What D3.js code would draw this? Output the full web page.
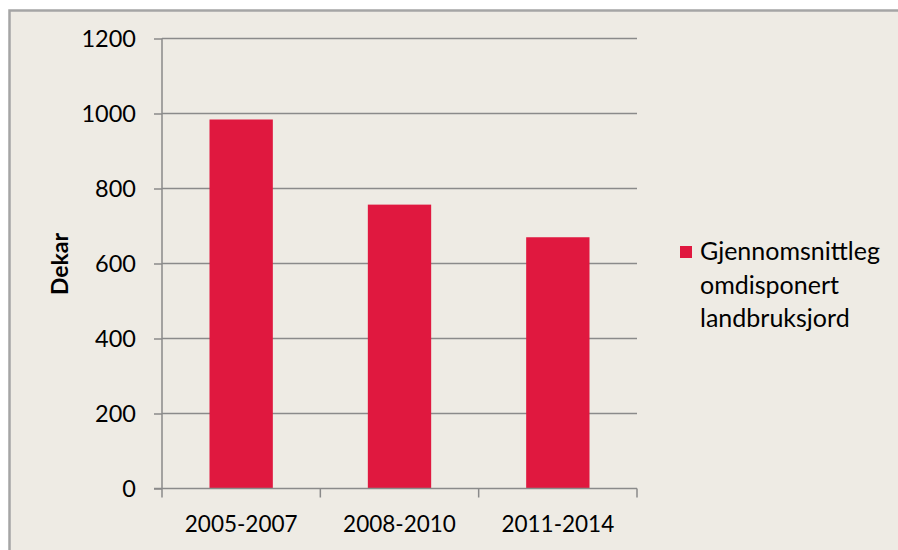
<!DOCTYPE html>
<html>
<head>
<meta charset="utf-8">
<script src="https://cdn.jsdelivr.net/npm/d3@7"></script>
<style>
    body { margin: 0; background: #fff; }
    svg { display: block; }
    text { font-family: Lato, "Open Sans", sans-serif; fill: #000; }
</style>
</head>
<body>
<div id="chart"></div>
<script>
var periods = ["2005-2007", "2008-2010", "2011-2014"];
var dekar = [984, 757, 670];
var yTicks = [0, 200, 400, 600, 800, 1000, 1200];
var legendLines = ["Gjennomsnittleg", "omdisponert", "landbruksjord"];

var width = 898,
    height = 550;
var margin = {left: 162, right: 261, top: 38.5, bottom: 61.5};

var svg = d3.select("#chart")
    .append("svg")
    .attr("width", width)
    .attr("height", height);

// chart frame
svg.append("rect")
    .attr("x", 9.5)
    .attr("y", 10.5)
    .attr("width", width + 20)
    .attr("height", height + 20)
    .attr("fill", "#eeebe4")
    .attr("stroke", "#a5a5a5")
    .attr("stroke-width", 2.5);

var x = d3.scaleBand()
    .domain(periods)
    .range([margin.left, width - margin.right])
    .paddingInner(0.6)
    .paddingOuter(0.3);

var y = d3.scaleLinear()
    .domain([0, 1200])
    .range([height - margin.bottom, margin.top]);

// gridlines
svg.append("g")
    .selectAll("line")
    .data(yTicks.filter(function(d) { return d > 0; }))
    .enter()
    .append("line")
    .attr("x1", margin.left)
    .attr("x2", width - margin.right)
    .attr("y1", function(d) { return y(d); })
    .attr("y2", function(d) { return y(d); })
    .attr("stroke", "#8a8a8a")
    .attr("stroke-width", 1.5);

// bars
svg.append("g")
    .selectAll("rect")
    .data(periods)
    .enter()
    .append("rect")
    .attr("x", function(d) { return x(d); })
    .attr("y", function(d, i) { return y(dekar[i]); })
    .attr("width", x.bandwidth())
    .attr("height", function(d, i) { return y(0) - y(dekar[i]); })
    .attr("fill", "#e0183f");

// y axis
var yAxis = svg.append("g")
    .attr("transform", "translate(" + margin.left + ",0)")
    .call(d3.axisLeft(y).tickValues(yTicks).tickFormat(d3.format("d")).tickSize(8).tickPadding(18));
yAxis.selectAll("path, line").attr("stroke", "#8a8a8a").attr("stroke-width", 1.5);
yAxis.select(".domain").attr("d", "M0," + y(1200) + "V" + y(0));
yAxis.selectAll("text")
    .style("font-size", "23.5px")
    .style("font-family", "Lato, 'Open Sans', sans-serif")
    .attr("fill", "#000");

// x axis, ticks on category boundaries
var xAxis = svg.append("g")
    .attr("transform", "translate(0," + y(0) + ")");
xAxis.append("line")
    .attr("x1", margin.left - 8)
    .attr("x2", width - margin.right)
    .attr("stroke", "#8a8a8a")
    .attr("stroke-width", 1.5);
var step = x.step();
xAxis.selectAll(".bound")
    .data(d3.range(periods.length + 1))
    .enter()
    .append("line")
    .attr("class", "bound")
    .attr("x1", function(i) { return margin.left + i * step; })
    .attr("x2", function(i) { return margin.left + i * step; })
    .attr("y1", 0)
    .attr("y2", 9)
    .attr("stroke", "#8a8a8a")
    .attr("stroke-width", 1.5);
xAxis.selectAll(".lbl")
    .data(periods)
    .enter()
    .append("text")
    .attr("class", "lbl")
    .attr("x", function(d) { return x(d) + x.bandwidth() / 2; })
    .attr("y", 43)
    .attr("text-anchor", "middle")
    .style("font-size", "22.5px")
    .text(function(d) { return d; });

// y title
svg.append("text")
    .attr("transform", "translate(68,264) rotate(-90)")
    .attr("text-anchor", "middle")
    .style("font-size", "23px")
    .style("font-weight", "bold")
    .text("Dekar");

// legend
var legend = svg.append("g").attr("transform", "translate(680,246)");
legend.append("rect")
    .attr("width", 12)
    .attr("height", 12)
    .attr("fill", "#e0183f");
legend.selectAll("text")
    .data(legendLines)
    .enter()
    .append("text")
    .attr("x", 20)
    .attr("y", function(d, i) { return 14 + i * 33.5; })
    .style("font-size", "25px")
    .text(function(d) { return d; });
</script>
</body>
</html>
